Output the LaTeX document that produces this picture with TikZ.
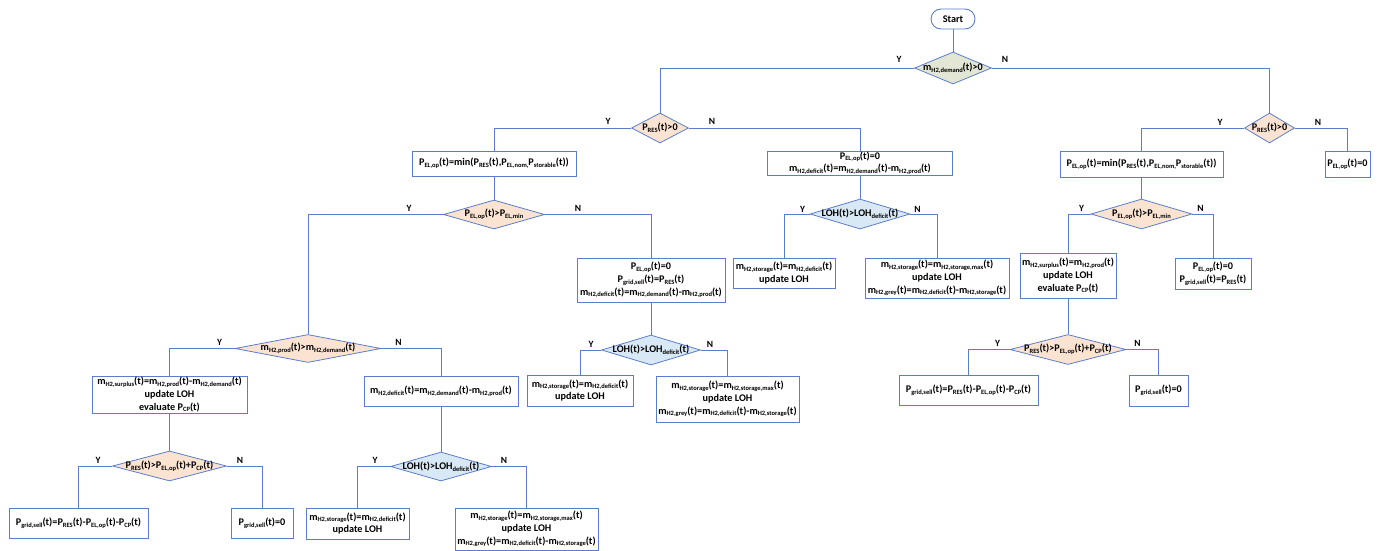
\documentclass[tikz,border=0pt]{standalone}
\usepackage{fontspec}
\setmainfont{Carlito}
\usetikzlibrary{shapes.geometric}
\definecolor{flowblue}{HTML}{5A7ECC}
\definecolor{peach}{HTML}{FBE3D2}
\definecolor{icyblue}{HTML}{D9E8F5}
\definecolor{olive}{HTML}{E3E6D4}
% small subscript used throughout the labels
\newcommand{\lo}[1]{\raisebox{-0.35ex}{\fontsize{6.5}{6.5}\selectfont #1}}
\tikzset{
  every node/.style={font=\bfseries\fontsize{10.2}{12.8}\selectfont, text=black},
  box/.style={rectangle, draw=flowblue, line width=0.9pt, fill=white, inner sep=0pt, align=center},
  dia/.style={diamond, draw=flowblue, line width=0.8pt, inner sep=0pt},
  dtext/.style={inner sep=0pt},
  yn/.style={inner sep=0pt, font=\bfseries\fontsize{9.5}{10}\selectfont},
  link/.style={draw=flowblue, line width=0.8pt},
}
\begin{document}
\begin{tikzpicture}[x=1pt, y=-1pt]
\useasboundingbox (0,0) rectangle (1379,551);

% start and first decision
\node[box, rounded corners=10pt, minimum width=44pt, minimum height=20pt] (start) at (953,19) {Start};
\node[dia, fill=olive, minimum width=77pt, minimum height=32pt,
  label={[dtext]center:m\lo{H2,demand}(t)>0}] (d1) at (953,68) {};

% renewable power decisions
\node[dia, fill=peach, minimum width=57pt, minimum height=30pt,
  label={[dtext]center:P\lo{RES}(t)>0}] (d2) at (660,128) {};
\node[dia, fill=peach, minimum width=50pt, minimum height=30pt,
  label={[dtext]center:P\lo{RES}(t)>0}] (d8) at (1269.5,128) {};

% demand branch, renewable power available
\node[box, minimum width=164pt, minimum height=25pt] (b1) at (494,163.5)
  {P\lo{EL,op}(t)=min(P\lo{RES}(t),P\lo{EL,nom,}P\lo{storable}(t))};
\node[dia, fill=peach, minimum width=101pt, minimum height=29pt,
  label={[dtext]center:P\lo{EL,op}(t)>P\lo{EL,min}}] (d3) at (494,214.5) {};
\node[dia, fill=peach, minimum width=146pt, minimum height=28pt,
  label={[dtext]center:m\lo{H2,prod}(t)>m\lo{H2,demand}(t)}] (d4) at (308,348.5) {};
\node[box, minimum width=155pt, minimum height=37pt] (b3) at (169.5,394.5)
  {m\lo{H2,surplus}(t)=m\lo{H2,prod}(t)-m\lo{H2,demand}(t)\\update LOH\\evaluate P\lo{CP}(t)};
\node[box, minimum width=154pt, minimum height=30pt] (b4) at (441,391)
  {m\lo{H2,deficit}(t)=m\lo{H2,demand}(t)-m\lo{H2,prod}(t)};
\node[dia, fill=peach, minimum width=114pt, minimum height=30pt,
  label={[dtext]center:P\lo{RES}(t)>P\lo{EL,op}(t)+P\lo{CP}(t)}] (d5) at (169.5,466) {};
\node[box, minimum width=139pt, minimum height=30pt] (b16) at (78.5,523)
  {P\lo{grid,sell}(t)=P\lo{RES}(t)-P\lo{EL,op}(t)-P\lo{CP}(t)};
\node[box, minimum width=62pt, minimum height=30pt] (b17) at (262,523)
  {P\lo{grid,sell}(t)=0};
\node[dia, fill=icyblue, minimum width=101pt, minimum height=29pt,
  label={[dtext]center:LOH(t)>LOH\lo{deficit}(t)}] (d11) at (441,466.5) {};
\node[box, minimum width=103pt, minimum height=31pt] (b18) at (357.5,523.5)
  {m\lo{H2,storage}(t)=m\lo{H2,deficit}(t)\\update LOH};
\node[box, minimum width=143pt, minimum height=42pt] (b19) at (526.5,529)
  {m\lo{H2,storage}(t)=m\lo{H2,storage,max}(t)\\update LOH\\m\lo{H2,grey}(t)=m\lo{H2,deficit}(t)-m\lo{H2,storage}(t)};

% electrolyser below its minimum power
\node[box, minimum width=148pt, minimum height=44pt] (b5) at (651,280)
  {P\lo{EL,op}(t)=0\\P\lo{grid,sell}(t)=P\lo{RES}(t)\\m\lo{H2,deficit}(t)=m\lo{H2,demand}(t)-m\lo{H2,prod}(t)};
\node[dia, fill=icyblue, minimum width=99pt, minimum height=30pt,
  label={[dtext]center:LOH(t)>LOH\lo{deficit}(t)}] (d6) at (651,350) {};
\node[box, minimum width=106pt, minimum height=31pt] (b6) at (580,390.5)
  {m\lo{H2,storage}(t)=m\lo{H2,deficit}(t)\\update LOH};
\node[box, minimum width=143pt, minimum height=46pt] (b7) at (727.5,399)
  {m\lo{H2,storage}(t)=m\lo{H2,storage,max}(t)\\update LOH\\m\lo{H2,grey}(t)=m\lo{H2,deficit}(t)-m\lo{H2,storage}(t)};

% demand branch, no renewable power
\node[box, minimum width=185pt, minimum height=24pt] (b2) at (860,163)
  {P\lo{EL,op}(t)=0\\m\lo{H2,deficit}(t)=m\lo{H2,demand}(t)-m\lo{H2,prod}(t)};
\node[dia, fill=icyblue, minimum width=100pt, minimum height=30pt,
  label={[dtext]center:LOH(t)>LOH\lo{deficit}(t)}] (d7) at (860,214) {};
\node[box, minimum width=102pt, minimum height=30pt] (b8) at (784,273)
  {m\lo{H2,storage}(t)=m\lo{H2,deficit}(t)\\update LOH};
\node[box, minimum width=144pt, minimum height=40pt] (b9) at (937,278)
  {m\lo{H2,storage}(t)=m\lo{H2,storage,max}(t)\\update LOH\\m\lo{H2,grey}(t)=m\lo{H2,deficit}(t)-m\lo{H2,storage}(t)};

% no demand branch
\node[box, minimum width=163pt, minimum height=26pt] (b10) at (1141.5,164)
  {P\lo{EL,op}(t)=min(P\lo{RES}(t),P\lo{EL,nom,}P\lo{storable}(t))};
\node[box, minimum width=45pt, minimum height=26pt] (b11) at (1347.5,164)
  {P\lo{EL,op}(t)=0};
\node[dia, fill=peach, minimum width=101pt, minimum height=30pt,
  label={[dtext]center:P\lo{EL,op}(t)>P\lo{EL,min}}] (d9) at (1141.5,214) {};
\node[box, minimum width=96pt, minimum height=45pt] (b12) at (1068,275.5)
  {m\lo{H2,surplus}(t)=m\lo{H2,prod}(t)\\update LOH\\evaluate P\lo{CP}(t)};
\node[box, minimum width=76pt, minimum height=31pt] (b13) at (1213,273.5)
  {P\lo{EL,op}(t)=0\\P\lo{grid,sell}(t)=P\lo{RES}(t)};
\node[dia, fill=peach, minimum width=116pt, minimum height=30pt,
  label={[dtext]center:P\lo{RES}(t)>P\lo{EL,op}(t)+P\lo{CP}(t)}] (d10) at (1068,349.5) {};
\node[box, minimum width=139pt, minimum height=30pt] (b14) at (968.5,390)
  {P\lo{grid,sell}(t)=P\lo{RES}(t)-P\lo{EL,op}(t)-P\lo{CP}(t)};
\node[box, minimum width=59pt, minimum height=31pt] (b15) at (1158.5,390.5)
  {P\lo{grid,sell}(t)=0};

% connectors
\draw[link] (start) -- (d1);
\draw[link] (d1.west) -| (d2.north);
\draw[link] (d1.east) -| (d8.north);
\draw[link] (d2.west) -| (b1.north);
\draw[link] (d2.east) -| (b2.north);
\draw[link] (b1) -- (d3);
\draw[link] (d3.west) -| (d4.north);
\draw[link] (d3.east) -| (b5.north);
\draw[link] (d4.west) -| (b3.north);
\draw[link] (d4.east) -| (b4.north);
\draw[link] (b3) -- (d5);
\draw[link] (d5.west) -| (b16.north);
\draw[link] (d5.east) -| (b17.north);
\draw[link] (b4) -- (d11);
\draw[link] (d11.west) -| (b18.north);
\draw[link] (d11.east) -| (b19.north);
\draw[link] (b5) -- (d6);
\draw[link] (d6.west) -| (b6.north);
\draw[link] (d6.east) -| (b7.north);
\draw[link] (b2) -- (d7);
\draw[link] (d7.west) -| (b8.north);
\draw[link] (d7.east) -| (b9.north);
\draw[link] (d8.west) -| (b10.north);
\draw[link] (d8.east) -| (b11.north);
\draw[link] (b10) -- (d9);
\draw[link] (d9.west) -| (b12.north);
\draw[link] (d9.east) -| (b13.north);
\draw[link] (b12) -- (d10);
\draw[link] (d10.west) -| (b14.north);
\draw[link] (d10.east) -| (b15.north);

% branch labels
\node[yn] (y1) at ([xshift=-15pt,yshift=9pt]d1.west) {Y};
\node[yn] (n1) at ([xshift=13pt,yshift=9pt]d1.east) {N};
\node[yn] (y2) at ([xshift=-23pt,yshift=7pt]d2.west) {Y};
\node[yn] (n2) at ([xshift=23pt,yshift=7pt]d2.east) {N};
\node[yn] (y3) at ([xshift=-34pt,yshift=6pt]d3.west) {Y};
\node[yn] (n3) at ([xshift=33pt,yshift=6pt]d3.east) {N};
\node[yn] (y4) at ([xshift=-15pt,yshift=6pt]d4.west) {Y};
\node[yn] (n4) at ([xshift=17pt,yshift=6pt]d4.east) {N};
\node[yn] (y5) at ([xshift=-14pt,yshift=6pt]d5.west) {Y};
\node[yn] (n5) at ([xshift=13pt,yshift=6pt]d5.east) {N};
\node[yn] (y6) at ([xshift=-10pt,yshift=6pt]d6.west) {Y};
\node[yn] (n6) at ([xshift=9pt,yshift=6pt]d6.east) {N};
\node[yn] (y7) at ([xshift=-7pt,yshift=5pt]d7.west) {Y};
\node[yn] (n7) at ([xshift=7pt,yshift=5pt]d7.east) {N};
\node[yn] (y8) at ([xshift=-24pt,yshift=6pt]d8.west) {Y};
\node[yn] (n8) at ([xshift=23pt,yshift=6pt]d8.east) {N};
\node[yn] (y9) at ([xshift=-9pt,yshift=6pt]d9.west) {Y};
\node[yn] (n9) at ([xshift=8pt,yshift=6pt]d9.east) {N};
\node[yn] (y10) at ([xshift=-12pt,yshift=6pt]d10.west) {Y};
\node[yn] (n10) at ([xshift=11pt,yshift=6pt]d10.east) {N};
\node[yn] (y11) at ([xshift=-15pt,yshift=6pt]d11.west) {Y};
\node[yn] (n11) at ([xshift=12pt,yshift=6pt]d11.east) {N};
\end{tikzpicture}
\end{document}
